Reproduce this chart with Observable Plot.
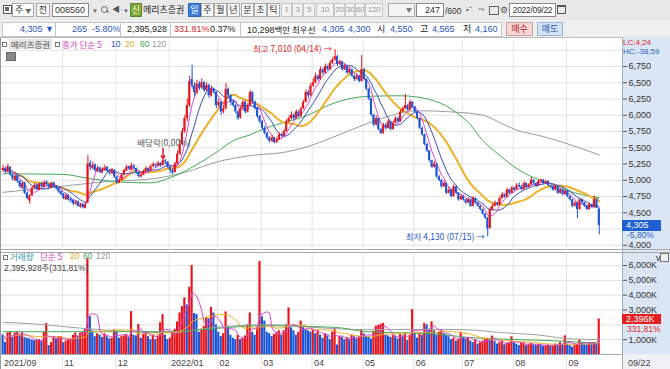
<!DOCTYPE html>
<html><head><meta charset="utf-8">
<script src="https://cdn.jsdelivr.net/npm/d3@7"></script>
<script src="https://cdn.jsdelivr.net/npm/@observablehq/plot@0.6"></script>
<style>
body{margin:0;width:670px;height:369px;overflow:hidden;background:#fff;font-family:"Liberation Sans","Noto Sans CJK KR",sans-serif;font-size:10px;color:#222;position:relative}
.a{position:absolute;white-space:nowrap;line-height:10px}
.k{font-family:"Noto Sans CJK KR",sans-serif;font-size:9px}
.b{position:absolute;top:3px;height:14px;box-sizing:border-box;border:1px solid #aaa;background:#f7f7f7;text-align:center;line-height:12px;font-family:"Noto Sans CJK KR",sans-serif;font-size:9px;color:#333;white-space:nowrap;overflow:hidden}
.n{font-family:"Liberation Sans",sans-serif;font-size:9px}
.s{font-size:8px;letter-spacing:-0.3px}
.g{color:#999;background:#f3f3f3;border-color:#c8c8c8}
.sq{position:absolute;width:3px;height:3px;border:1px solid #777;background:#fff}
#pricewrap{position:absolute;left:0;top:37px}
#volwrap{position:absolute;left:0;top:251px}
svg{overflow:visible}
</style></head>
<body>
<!-- toolbar row 1 -->
<div class="a" style="left:0;top:0;width:670px;height:20px;background:#e9e9e9;border-bottom:1px solid #c6c6c6"></div>
<div class="a" style="left:3px;top:5px;width:7px;height:7px;border:1px solid #555;background:#fff"></div>
<div class="a" style="left:5px;top:7px;width:4px;height:4px;background:#666"></div>
<div class="b" style="left:12px;width:22px;background:#fff;text-align:left;padding-left:2px">주 <span style="font-size:6px;color:#666">▼</span></div>
<div class="b" style="left:36px;width:14px">전</div>
<div class="b n" style="left:52px;width:37px;background:#fff;text-align:left;padding-left:2px;border-color:#888">008560</div>
<div class="a" style="left:92px;top:6px;font-size:6px;color:#666">▼</div>
<div class="a" style="left:101px;top:6px;width:5px;height:5px;border:1px solid #666;border-radius:50%"></div>
<div class="a" style="left:106px;top:11px;width:3px;height:1px;background:#666;transform:rotate(45deg)"></div>
<div class="a" style="left:112px;top:5px;font-size:8px;color:#555">◀·</div>
<div class="a" style="left:123px;top:6px;font-size:6px;color:#666">▼</div>
<div class="b" style="left:130px;width:12px;background:#7aa53c;color:#fff8c8;border-color:#5d8a2c">신</div>
<div class="a k" style="left:143px;top:5px;color:#222">메리츠증권</div>
<div class="b" style="left:188px;width:13px;background:#3f7fda;color:#fff;border-color:#2c66bb">일</div>
<div class="b" style="left:201px;width:13px">주</div>
<div class="b" style="left:214px;width:13px">월</div>
<div class="b" style="left:227px;width:13px">년</div>
<div class="b" style="left:241px;width:13px">분</div>
<div class="b" style="left:254px;width:13px">초</div>
<div class="b" style="left:267px;width:13px">틱</div>
<div class="b n g s" style="left:281px;width:11px">1</div>
<div class="b n g s" style="left:292px;width:11px">3</div>
<div class="b n g s" style="left:303px;width:12px">5</div>
<div class="b n g s" style="left:316px;width:18px">10</div>
<div class="b n g s" style="left:334px;width:11px">20</div>
<div class="b n g s" style="left:345px;width:10px">30</div>
<div class="b n g s" style="left:355px;width:10px">60</div>
<div class="b n g s" style="left:365px;width:18px">120</div>
<div class="b" style="left:388px;width:27px;background:#f4f4f4;text-align:right;padding-right:2px;font-size:6px;color:#777">▼</div>
<div class="b n" style="left:416px;width:28px;background:#fff;text-align:right;padding-right:3px;border-color:#888">247</div>
<div class="a n" style="left:445px;top:6px;color:#333;font-size:8.5px">/600</div>
<div class="a" style="left:466px;top:5px;font-size:8px;color:#555">•⁺</div>
<div class="a" style="left:478px;top:5px;font-size:8px;color:#777">⤳</div>
<div class="a" style="left:489px;top:6px;width:8px;height:7px;border:1px solid #666"></div>
<div class="a" style="left:500px;top:5px;font-size:9px;color:#555">⚙</div>
<div class="b n s" style="left:509px;width:47px;background:#fff;border-color:#888;font-size:8.5px">2022/09/22</div>
<div class="a" style="left:557px;top:5px;width:7px;height:6px;border:1px solid #555;border-top:2px solid #555"></div>

<!-- toolbar row 2 -->
<div class="a" style="left:0;top:20px;width:670px;height:17px;background:#efefef;border-bottom:1px solid #b9b9b9"></div>
<div class="a" style="left:2px;top:22px;width:498px;height:13px;background:#fff;border:1px solid #c4c4c4"></div>
<div class="a n" style="left:20px;top:24px;color:#2a55c4">4,305 ▼</div>
<div class="a" style="left:55px;top:22px;width:1px;height:14px;background:#c4c4c4"></div>
<div class="a n" style="left:72px;top:24px;color:#2a55c4">265</div>
<div class="a n" style="left:92px;top:24px;color:#2a55c4">-5.80%</div>
<div class="a" style="left:120px;top:22px;width:1px;height:14px;background:#c4c4c4"></div>
<div class="a n" style="left:127px;top:24px;color:#222">2,395,928</div>
<div class="a" style="left:170px;top:22px;width:1px;height:14px;background:#c4c4c4"></div>
<div class="a n" style="left:174px;top:24px;color:#e02828">331.81%</div>
<div class="a n" style="left:210px;top:24px;color:#222">0.37%</div>
<div class="a" style="left:240px;top:22px;width:1px;height:14px;background:#c4c4c4"></div>
<div class="a n" style="left:247px;top:24px;color:#222">10,298<span class="k" style="font-size:8.5px">백만</span></div>
<div class="a k" style="left:292px;top:24px;color:#222;font-size:8.5px">최우선</div>
<div class="a n" style="left:322px;top:24px;color:#2a55c4">4,305</div>
<div class="a n" style="left:348px;top:24px;color:#2a55c4">4,300</div>
<div class="a k" style="left:377px;top:24px;color:#222">시</div>
<div class="a n" style="left:390px;top:24px;color:#2a55c4">4,550</div>
<div class="a k" style="left:420px;top:24px;color:#222">고</div>
<div class="a n" style="left:432px;top:24px;color:#2a55c4">4,565</div>
<div class="a k" style="left:463px;top:24px;color:#222">저</div>
<div class="a n" style="left:475px;top:24px;color:#2a55c4">4,160</div>
<div class="b" style="top:22px;left:506px;width:27px;background:#f7d6d6;color:#b02020;border-color:#d0a0a0">매수</div>
<div class="b" style="top:22px;left:537px;width:26px;background:#d2e3f6;color:#234f9e;border-color:#9ab4d6">매도</div>

<!-- chart frame backgrounds -->
<div class="a" style="left:622px;top:37px;width:48px;height:317px;background:#dbe6f4;border-left:1px solid #9fb0c8;box-sizing:border-box"></div>
<div class="a" style="left:0;top:249px;width:670px;height:2px;border-top:1px solid #a8a8a8;border-bottom:1px solid #a8a8a8"></div>
<div class="a" style="left:0;top:354px;width:670px;height:15px;border-top:1px solid #a8a8a8;background:#fff"></div>
<div class="a" style="left:622px;top:354px;width:48px;height:15px;background:#eef1f5;border-left:1px solid #a8a8a8;box-sizing:border-box"></div>
<div class="a n" style="left:628px;top:358px;color:#444">09/22</div>
<div class="a" style="left:0;top:37px;width:1px;height:332px;background:#999"></div>

<div id="pricewrap"></div>
<div id="volwrap"></div>

<!-- price legend -->
<div class="sq" style="left:2px;top:42px"></div>
<div class="a k" style="left:9px;top:39px;padding:0 2px;background:#e4e4e4;color:#555;font-size:8.5px">메리츠증권</div>
<div class="sq" style="left:55px;top:42px"></div>
<div class="a k" style="left:62px;top:39px;color:#d43fc4;font-size:8.5px">종가 단순 5</div>
<div class="a n" style="left:111px;top:39px;color:#3050c0;font-size:8.5px">10</div>
<div class="a n" style="left:125px;top:39px;color:#e5a81c;font-size:8.5px">20</div>
<div class="a n" style="left:140px;top:39px;color:#3fa34f;font-size:8.5px">60</div>
<div class="a n" style="left:152px;top:39px;color:#999;font-size:8.5px">120</div>
<div class="a" style="left:6px;top:52px;width:8px;height:7px;background:#8a8a8a;border:1px solid #666"></div>
<div class="a n" style="left:623px;top:39px;color:#e02828;font-size:8px;line-height:8px">LC:4,24</div>
<div class="a n" style="left:623px;top:48px;color:#2a5fc8;font-size:8px;line-height:8px">HC:-38,59</div>
<div class="a n" style="left:622px;top:220px;width:39px;height:11px;line-height:11px;background:#1f5fd2;color:#fff;padding-left:4px;box-sizing:border-box">4,305</div>
<div class="a n" style="left:627px;top:231px;color:#2a5fc8;font-size:8.5px;line-height:8px">-5,80%</div>

<!-- volume legend -->
<div class="sq" style="left:3px;top:255px"></div>
<div class="a k" style="left:10px;top:252px;color:#2c9bb0;font-size:8.5px;line-height:8px">거래량</div>
<div class="a k" style="left:40px;top:252px;color:#d43fc4;font-size:8.5px;line-height:8px">단순 5</div>
<div class="a n" style="left:70px;top:252px;color:#e5a81c;font-size:8.5px;line-height:8px">20</div>
<div class="a n" style="left:83px;top:252px;color:#3fa34f;font-size:8.5px;line-height:8px">60</div>
<div class="a n" style="left:96px;top:252px;color:#999;font-size:8.5px;line-height:8px">120</div>
<div class="a n" style="left:4px;top:264px;color:#444;font-size:8.5px;line-height:8px">2,395,928<span class="k" style="font-size:8px">주</span>(331,81%)</div>
<div class="a" style="left:660px;top:253px;width:7px;height:7px;border:1px solid #777;background:#eee"></div>
<div class="a n" style="left:622px;top:314px;width:39px;height:10px;line-height:10px;background:#e42020;color:#fff;padding-left:4px;box-sizing:border-box">2,396K</div>
<div class="a n" style="left:627px;top:325px;color:#e02828;font-size:8.5px;line-height:8px">331,81%</div>

<script>
// ---- data (daily bars, 2021/09/23 .. 2022/09/22) ----
const open = [5150,5180,5120,5200,5080,5000,5070,4980,4880,4960,4800,4680,4760,4880,4930,4850,4950,4890,4970,4930,
4880,4960,4900,4880,4830,4790,4700,4770,4710,4690,4630,4670,4590,4630,4570,4650,5260,5180,5240,5140,
5190,5110,5150,5200,5140,5100,5150,5050,4960,5000,5080,5140,5210,5160,5220,5180,5120,5050,5080,5130,
5180,5150,5210,5240,5220,5260,5230,5300,5280,5200,5150,5120,5250,5400,5550,5750,5950,6150,6550,6450,
6340,6480,6420,6500,6380,6460,6300,6400,6350,6150,6200,6050,6100,6400,6300,6200,6150,6050,5960,6100,
6200,6050,6150,6350,6200,6100,5980,5900,5800,5720,5650,5600,5650,5580,5620,5700,5680,5750,5900,5950,
6000,5950,6050,5980,6100,6200,6350,6300,6450,6500,6600,6550,6700,6650,6750,6700,6800,6850,6900,6780,
6820,6700,6750,6650,6700,6600,6550,6600,6520,6700,6550,6400,6250,6000,5850,5950,5780,5720,5850,5800,
5900,5780,5880,5950,5900,6050,6100,6150,6080,6200,6120,6050,5950,5800,5700,5550,5450,5300,5200,5250,
5050,5000,4900,4950,4800,4850,4750,4900,4800,4700,4750,4700,4650,4700,4600,4720,4650,4600,4550,4480,
4420,4260,4550,4600,4650,4620,4720,4780,4740,4850,4800,4880,4850,4920,4900,4860,4950,4890,4930,5000,
4950,4910,4980,5000,4950,4980,4920,4900,4850,4900,4800,4850,4780,4830,4750,4700,4600,4650,4550,4700,
4650,4600,4550,4620,4580,4700,4550];
const high = [5230,5200,5250,5210,5100,5090,5080,5000,4980,4970,4820,4780,4900,4950,4950,4960,4970,4990,4990,4950,
4970,4970,4920,4890,4840,4800,4790,4780,4730,4700,4690,4680,4650,4640,4650,5380,5300,5280,5250,5220,
5200,5190,5230,5210,5150,5180,5160,5060,5030,5100,5170,5230,5220,5260,5240,5190,5130,5110,5160,5210,
5190,5240,5270,5250,5290,5270,5380,5320,5290,5210,5180,5280,5450,5620,5800,6000,6250,6600,6770,6500,
6540,6520,6560,6520,6500,6480,6450,6420,6360,6250,6210,6150,6490,6420,6320,6230,6170,6080,6130,6230,
6220,6180,6380,6360,6220,6120,6000,5920,5830,5740,5670,5690,5660,5660,5730,5720,5780,5930,5990,6050,
6020,6080,6070,6130,6230,6390,6380,6490,6560,6650,6620,6740,6720,6790,6770,6840,6880,7010,6920,6850,
6830,6790,6760,6740,6710,6620,6640,6610,6920,6720,6560,6420,6260,6020,5990,5960,5800,5880,5870,5930,
5910,5910,5980,5970,6080,6130,6320,6170,6230,6210,6140,6060,5960,5820,5710,5570,5460,5310,5290,5260,
5070,5010,4990,4960,4890,4860,4930,4910,4810,4780,4760,4710,4730,4710,4750,4730,4660,4610,4560,4490,
4430,4580,4630,4680,4660,4750,4810,4790,4880,4860,4910,4890,4950,4960,4920,4980,4960,4950,5040,5010,
4960,5000,5020,5010,5000,4990,4930,4910,4920,4910,4870,4860,4850,4840,4760,4710,4680,4660,4720,4710,
4660,4610,4650,4630,4760,4720,4565];
const low = [5120,5100,5110,5060,4990,4980,4950,4870,4860,4780,4700,4630,4750,4860,4840,4840,4880,4880,4910,4870,
4870,4880,4850,4800,4760,4700,4690,4680,4650,4610,4620,4580,4570,4560,4560,4640,5150,5160,5120,5120,
5100,5100,5140,5120,5080,5090,5030,4940,4950,4990,5070,5130,5150,5150,5160,5100,5030,5040,5070,5120,
5120,5140,5200,5190,5210,5200,5220,5250,5180,5100,5080,5110,5240,5380,5530,5720,5900,6120,6400,6280,
6320,6380,6400,6350,6360,6260,6280,6320,6100,6120,6000,6020,6080,6270,6150,6120,6020,5920,5940,6080,
6020,6030,6140,6180,6080,5950,5870,5780,5700,5620,5570,5580,5560,5565,5610,5650,5670,5740,5880,5930,
5920,5940,5960,5970,6090,6190,6260,6290,6430,6480,6520,6540,6620,6640,6680,6690,6780,6830,6750,6760,
6680,6690,6630,6640,6580,6520,6540,6500,6510,6530,6380,6220,5980,5820,5840,5760,5700,5710,5770,5790,
5760,5770,5870,5880,5890,6040,6090,6060,6070,6100,6030,5930,5780,5680,5530,5430,5280,5180,5190,5030,
4980,4880,4890,4780,4790,4730,4740,4780,4680,4690,4680,4630,4640,4580,4590,4630,4580,4530,4460,4400,
4130,4250,4530,4590,4600,4610,4710,4720,4730,4780,4790,4830,4840,4880,4840,4850,4870,4880,4920,4930,
4890,4900,4960,4930,4940,4900,4870,4830,4840,4780,4790,4760,4770,4730,4680,4580,4590,4410,4540,4630,
4580,4530,4540,4560,4570,4560,4160];
const close = [5180,5130,5210,5090,5020,5060,4980,4900,4950,4800,4720,4760,4880,4920,4860,4940,4900,4960,4930,4890,
4950,4900,4870,4820,4780,4720,4760,4700,4680,4640,4660,4600,4620,4580,4620,5250,5200,5230,5150,5180,
5120,5160,5190,5140,5110,5150,5050,4960,5000,5080,5150,5200,5170,5220,5180,5120,5060,5080,5130,5180,
5150,5210,5240,5220,5260,5230,5300,5280,5200,5150,5120,5250,5400,5550,5750,5950,6150,6520,6450,6350,
6480,6420,6500,6380,6460,6300,6400,6350,6150,6200,6050,6100,6400,6300,6200,6150,6050,5950,6100,6200,
6050,6150,6350,6200,6100,5980,5900,5800,5720,5650,5600,5650,5580,5620,5700,5680,5750,5900,5950,6000,
5950,6050,5980,6100,6200,6350,6300,6450,6500,6600,6550,6700,6650,6750,6700,6800,6850,6900,6780,6820,
6700,6750,6650,6700,6600,6550,6600,6520,6700,6550,6400,6250,6000,5850,5950,5780,5720,5850,5800,5900,
5780,5880,5950,5900,6050,6100,6150,6080,6200,6120,6050,5950,5800,5700,5550,5450,5300,5200,5250,5050,
5000,4900,4950,4800,4850,4750,4900,4800,4700,4750,4700,4650,4700,4600,4720,4650,4600,4550,4480,4420,
4250,4550,4600,4650,4620,4720,4780,4740,4850,4800,4880,4850,4920,4900,4860,4950,4890,4930,5000,4950,
4910,4980,5000,4950,4980,4920,4900,4850,4900,4800,4850,4780,4830,4750,4700,4600,4650,4550,4700,4650,
4600,4550,4620,4580,4700,4570,4305];
// volume in thousands of shares
const volume = [1320,820,1450,1520,1150,1450,1480,1300,1460,1150,1100,1050,980,930,940,1000,900,1500,2100,600,
800,1150,1050,1200,1200,800,900,1000,1050,1300,1450,1250,1450,1500,1700,6450,2550,1600,1200,1400,
1300,1150,1400,1200,1050,1100,1670,1500,1100,1200,1250,1350,1150,2890,1300,1250,2020,1100,1350,1550,
1200,1000,1300,1000,1250,2140,2690,1300,1000,1100,1500,1700,2200,2800,3230,3820,3340,4530,6000,2760,
2700,1500,1700,1900,2500,2400,3180,2800,2000,1500,1200,1400,2870,1900,1300,1100,1000,1300,1000,1100,
1250,2000,2800,1500,1300,1800,6270,2550,2260,1500,1400,1200,1350,1500,1600,1300,1600,2000,3140,1800,
1600,1300,1500,2260,1800,1700,1600,1500,1700,1400,1600,1300,1100,1400,1250,1000,1500,1740,640,1240,
1150,1000,1150,1000,1300,1200,1050,1200,1680,1400,1200,1150,1050,1550,1900,1970,2040,2100,1300,1250,
1150,1300,1200,1050,1350,1250,1450,950,1300,3030,1500,1100,1400,1300,2100,2000,1700,2200,1600,1300,
1500,1600,1400,1300,1200,1000,1100,900,1000,1500,1150,1050,1100,900,800,1000,700,800,900,1000,
1100,1000,1240,900,700,800,900,650,750,800,1200,800,700,600,750,800,600,700,750,650,
600,700,650,550,600,650,550,600,700,650,800,700,1260,700,600,500,650,700,1000,800,
700,650,750,700,800,722,2396];
// long moving averages (bar index, value)
const ma60Idx = [0,25,35,50,61,69,77,88,95,102,109,116,125,136,150,164,171,178,184,187,192,198,205,212,219,226,233,246];
const ma60Val = [5100,5090,5030,4970,4960,5040,5180,5430,5610,5700,5810,5890,5990,6180,6290,6300,6280,6220,6120,6040,5890,5610,5380,5180,5040,4950,4840,4730];
const ma120Idx = [0,20,40,63,75,88,102,116,125,136,150,156,171,186,198,206,212,220,226,233,246];
const ma120Val = [4815,4890,4970,5030,5120,5280,5380,5430,5510,5660,5870,5950,6070,6050,6000,5870,5770,5700,5640,5560,5390];
const vma60Idx = [0,40,69,88,106,137,150,179,192,206,220,233,246];
const vma60Val = [1540,1540,1540,1760,1940,1830,1540,1380,1150,1040,970,880,770];
const vma120Idx = [0,13,33,68,88,109,137,150,179,190,206,220,233,246];
const vma120Val = [2170,2060,1760,1470,1830,2010,1740,1670,1690,1680,1470,1330,1070,1000];
// month axis (first bar index of each month)
const monthIdx = [0,25,47,69,89,107,128,149,170,190,211,233];
const monthLbl = ["2021/09","11","12","2022/01","02","03","04","05","06","07","08","09"];
const priceTicks = [4000,4500,4750,5000,5250,5500,5750,6000,6250,6500,6750];
const priceGrid = [4000,4250,4500,4750,5000,5250,5500,5750,6000,6250,6500,6750,7000];
const volTicks = [1000,3000,4000,5000,6000];
const volGrid = [1000,2000,3000,4000,5000,6000];
const hiIdx = 137, hiVal = 7010, loIdx = 200, loVal = 4130, divIdx = 66;

// ---- build ----
const UP = "#e8141c", DN = "#1a55d8";
const bars = d3.range(close.length).map(i => ({
  i, o: open[i], h: high[i], l: low[i], c: close[i], v: volume[i],
  up: close[i] >= open[i], vup: i > 0 && volume[i] >= volume[i - 1]
}));
const pts = (I, V) => I.map((i, k) => ({i, v: V[k]}));
const months = monthIdx.map((i, k) => ({i, label: monthLbl[k]}));
const xDom = [-0.66, 255.6];
const baseStyle = {background: "transparent", fontFamily: "Liberation Sans, sans-serif", fontSize: "9px", color: "#333", overflow: "visible"};

const price = Plot.plot({
  width: 670, height: 213, marginLeft: 1, marginRight: 48, marginTop: 3, marginBottom: 0,
  style: baseStyle,
  x: {domain: xDom, axis: null},
  y: {domain: [3920, 7150], axis: null},
  color: {type: "identity"},
  marks: [
    Plot.ruleY(priceGrid, {stroke: "#e3e3e3"}),
    Plot.ruleX(monthIdx.slice(1), {x: d => d - 0.5, stroke: "#e3e3e3"}),
    Plot.line(pts(ma120Idx, ma120Val), {x: "i", y: "v", stroke: "#9c9c9c", strokeWidth: 1, curve: "monotone-x"}),
    Plot.line(pts(ma60Idx, ma60Val), {x: "i", y: "v", stroke: "#46a857", strokeWidth: 1, curve: "monotone-x"}),
    Plot.lineY(bars, Plot.windowY({k: 20, anchor: "end", reduce: "mean", strict: false}, {x: "i", y: "c", stroke: "#f0b028", strokeWidth: 2})),
    Plot.lineY(bars, Plot.windowY({k: 10, anchor: "end", reduce: "mean", strict: false}, {x: "i", y: "c", stroke: "#3a4fb8", strokeWidth: 1})),
    Plot.lineY(bars, Plot.windowY({k: 5, anchor: "end", reduce: "mean", strict: false}, {x: "i", y: "c", stroke: "#d94bd2", strokeWidth: 1})),
    Plot.ruleX(bars, {x: "i", y1: "l", y2: "h", stroke: d => d.up ? UP : DN, strokeWidth: 1}),
    Plot.rect(bars, {x1: d => d.i - 0.42, x2: d => d.i + 0.42,
      y1: d => Math.min(d.o, d.c), y2: d => Math.max(d.o, d.c) + (d.o === d.c ? 10 : 0),
      fill: d => d.up ? UP : DN}),
    Plot.text([{i: hiIdx, p: hiVal}], {x: "i", y: "p", text: () => "최고 7,010 (04/14) →", textAnchor: "end", dx: -3,
      fill: "#e0282e", fontSize: 8.5, fontFamily: "Noto Sans CJK KR, sans-serif"}),
    Plot.text([{i: loIdx, p: loVal}], {x: "i", y: "p", text: () => "최저 4,130 (07/15) →", textAnchor: "end", dx: -3,
      fill: "#2456c4", fontSize: 8.5, fontFamily: "Noto Sans CJK KR, sans-serif"}),
    Plot.text([{i: divIdx, p: 5565}], {x: "i", y: "p", text: () => "배당락(0,00%)", textAnchor: "middle", dx: 1,
      fill: "#555", fontSize: 8.5, fontFamily: "Noto Sans CJK KR, sans-serif"}),
    Plot.arrow([{i: divIdx}], {x1: "i", x2: "i", y1: () => 5490, y2: () => 5330, stroke: "#e0202a", strokeWidth: 1.5, headLength: 5}),
    Plot.axisY({anchor: "right", ticks: priceTicks, tickSize: 4, tickPadding: 2, tickFormat: d3.format(","), stroke: "#555", fill: "#333"})
  ]
});
document.getElementById("pricewrap").append(price);

const vol = Plot.plot({
  width: 670, height: 118, marginLeft: 1, marginRight: 48, marginTop: 2, marginBottom: 15,
  style: baseStyle,
  x: {domain: xDom, axis: null},
  y: {domain: [0, 6810], axis: null},
  color: {type: "identity"},
  marks: [
    Plot.ruleY(volGrid, {stroke: "#e3e3e3"}),
    Plot.ruleX(monthIdx.slice(1), {x: d => d - 0.5, y1: () => -1030, y2: () => 6810, stroke: "#e3e3e3"}),
    Plot.rect(bars, {x1: d => d.i - 0.44, x2: d => d.i + 0.44, y1: () => 0, y2: "v", fill: d => d.vup ? UP : DN}),
    Plot.line(pts(vma120Idx, vma120Val), {x: "i", y: "v", stroke: "#a0a0a0", strokeWidth: 1, curve: "monotone-x"}),
    Plot.line(pts(vma60Idx, vma60Val), {x: "i", y: "v", stroke: "#46a857", strokeWidth: 1, curve: "monotone-x"}),
    Plot.lineY(bars, Plot.windowY({k: 20, anchor: "end", reduce: "mean", strict: false}, {x: "i", y: "v", stroke: "#f0b028", strokeWidth: 1})),
    Plot.lineY(bars, Plot.windowY({k: 5, anchor: "end", reduce: "mean", strict: false}, {x: "i", y: "v", stroke: "#d94bd2", strokeWidth: 1})),
    Plot.axisY({anchor: "right", ticks: volTicks, tickSize: 4, tickPadding: 2, tickFormat: d => d3.format(",")(d) + "K", stroke: "#555", fill: "#333"}),
    Plot.text(months, {x: d => d.i - 0.5, y: () => 0, text: "label", textAnchor: "start", dx: 2, dy: 9, fill: "#444", fontSize: 9})
  ]
});
document.getElementById("volwrap").append(vol);
</script>
</body></html>
